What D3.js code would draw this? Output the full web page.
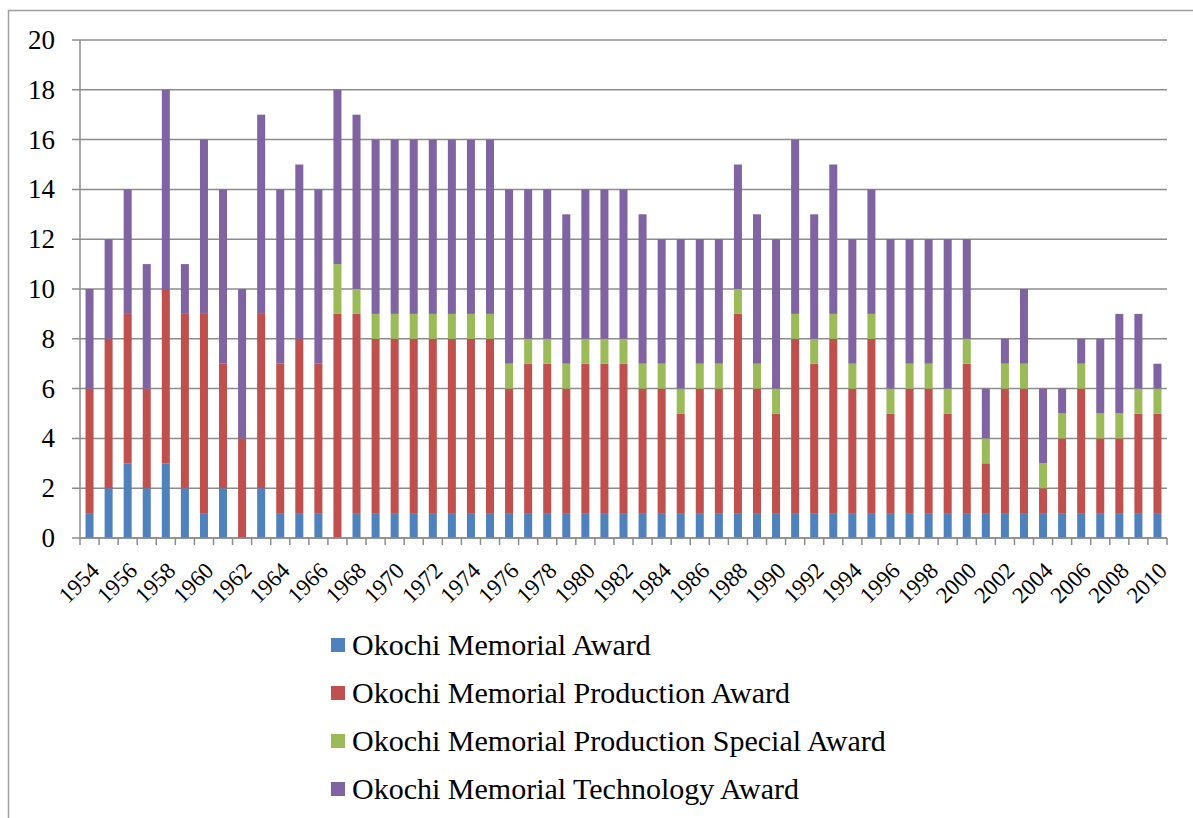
<html>
<head>
<style>
  body { margin: 0; background: #fff; }
  svg { display: block; font-family: "Liberation Serif", "Times New Roman", serif; }
</style>
</head>
<body>
<svg id="chart" width="1193" height="818"></svg>
<script src="https://d3js.org/d3.v7.min.js"></script>
<script>
// years 1954 .. 2010
var years = ["1954","1955","1956","1957","1958","1959","1960","1961","1962","1963",
  "1964","1965","1966","1967","1968","1969","1970","1971","1972","1973",
  "1974","1975","1976","1977","1978","1979","1980","1981","1982","1983",
  "1984","1985","1986","1987","1988","1989","1990","1991","1992","1993",
  "1994","1995","1996","1997","1998","1999","2000","2001","2002","2003",
  "2004","2005","2006","2007","2008","2009","2010"];

var memorialAward = [1,2,3,2,3,2,1,2,0,2, 1,1,1,0,1,1,1,1,1,1, 1,1,1,1,1,1,1,1,1,1,
  1,1,1,1,1,1,1,1,1,1, 1,1,1,1,1,1,1,1,1,1, 1,1,1,1,1,1,1];
var productionAward = [5,6,6,4,7,7,8,5,4,7, 6,7,6,9,8,7,7,7,7,7, 7,7,5,6,6,5,6,6,6,5,
  5,4,5,5,8,5,4,7,6,7, 5,7,4,5,5,4,6,2,5,5, 1,3,5,3,3,4,4];
var productionSpecial = [0,0,0,0,0,0,0,0,0,0, 0,0,0,2,1,1,1,1,1,1, 1,1,1,1,1,1,1,1,1,1,
  1,1,1,1,1,1,1,1,1,1, 1,1,1,1,1,1,1,1,1,1, 1,1,1,1,1,1,1];
var technologyAward = [4,4,5,5,8,2,7,7,6,8, 7,7,7,7,7,7,7,7,7,7, 7,7,7,6,6,6,6,6,6,6,
  5,6,5,5,5,6,6,7,5,6, 5,5,6,5,5,6,4,2,1,3, 3,1,1,3,4,3,1];

var seriesNames = ["Okochi Memorial Award", "Okochi Memorial Production Award",
  "Okochi Memorial Production Special Award", "Okochi Memorial Technology Award"];
var seriesColors = ["#4F81BD", "#C0504D", "#9BBB59", "#8064A2"];
var yTicks = [0,2,4,6,8,10,12,14,16,18,20];

function draw() {
  var table = years.map(function(yr, i) {
    return { year: yr, s0: memorialAward[i], s1: productionAward[i], s2: productionSpecial[i], s3: technologyAward[i] };
  });

  var svg = d3.select("#chart");
  var plotLeft = 80, plotRight = 1167, plotTop = 40, plotBottom = 538;

  // outer frame (cut off at right and bottom)
  svg.append("rect")
    .attr("x", 8.5).attr("y", 10.5)
    .attr("width", 1300).attr("height", 1000)
    .attr("fill", "none").attr("stroke", "#a0a0a0").attr("stroke-width", 1.5);

  var x = d3.scaleBand().domain(years).range([plotLeft, plotRight]).paddingInner(0.58).paddingOuter(0.29);
  var y = d3.scaleLinear().domain([0, 20]).range([plotBottom, plotTop]);

  // gridlines + y tick marks
  svg.append("g").selectAll("line").data(yTicks).enter().append("line")
    .attr("x1", plotLeft - 8).attr("x2", plotRight)
    .attr("y1", function(d) { return y(d); }).attr("y2", function(d) { return y(d); })
    .attr("stroke", "#8c8c8c").attr("stroke-width", 1.5);

  svg.append("g").selectAll("text").data(yTicks).enter().append("text")
    .attr("x", 55).attr("y", function(d) { return y(d) + 9; })
    .attr("text-anchor", "end")
    .style("font-size", "27px").attr("fill", "#000")
    .text(function(d) { return d; });

  // stacked bars
  var layers = d3.stack().keys(["s0","s1","s2","s3"])(table);

  svg.append("g").selectAll("g").data(layers).enter().append("g")
    .attr("fill", function(d, i) { return seriesColors[i]; })
    .selectAll("rect").data(function(d) { return d; }).enter().append("rect")
    .attr("x", function(d) { return x(d.data.year); })
    .attr("width", x.bandwidth())
    .attr("y", function(d) { return y(d[1]); })
    .attr("height", function(d) { return y(d[0]) - y(d[1]); });

  // axis lines
  svg.append("line").attr("x1", plotLeft).attr("x2", plotLeft).attr("y1", plotTop).attr("y2", plotBottom)
    .attr("stroke", "#8c8c8c").attr("stroke-width", 1.5);
  svg.append("line").attr("x1", plotLeft).attr("x2", plotRight).attr("y1", plotBottom).attr("y2", plotBottom)
    .attr("stroke", "#8c8c8c").attr("stroke-width", 1.5);

  // x ticks at band boundaries
  var step = x.step();
  var bounds = d3.range(years.length + 1).map(function(i) { return plotLeft + i * step; });
  svg.append("g").selectAll("line").data(bounds).enter().append("line")
    .attr("x1", function(d) { return d; }).attr("x2", function(d) { return d; })
    .attr("y1", plotBottom).attr("y2", plotBottom + 7)
    .attr("stroke", "#8c8c8c").attr("stroke-width", 1.5);

  // x labels every other year
  svg.append("g").selectAll("text").data(years.filter(function(d, i) { return i % 2 === 0; }))
    .enter().append("text")
    .attr("transform", function(d) {
      return "translate(" + (x(d) + x.bandwidth() / 2 + 11) + "," + (plotBottom + 34) + ") rotate(-45)";
    })
    .attr("text-anchor", "end")
    .style("font-size", "23px")
    .text(function(d) { return d; });

  // legend
  var legend = svg.append("g").selectAll("g").data(seriesNames).enter().append("g")
    .attr("transform", function(d, i) { return "translate(331," + (645 + i * 48) + ")"; });
  legend.append("rect")
    .attr("x", 0).attr("y", -7).attr("width", 14).attr("height", 14)
    .attr("fill", function(d, i) { return seriesColors[i]; });
  legend.append("text")
    .attr("x", 21).attr("y", 10)
    .style("font-size", "30px")
    .text(function(d) { return d; });
}

draw();
</script>
</body>
</html>
